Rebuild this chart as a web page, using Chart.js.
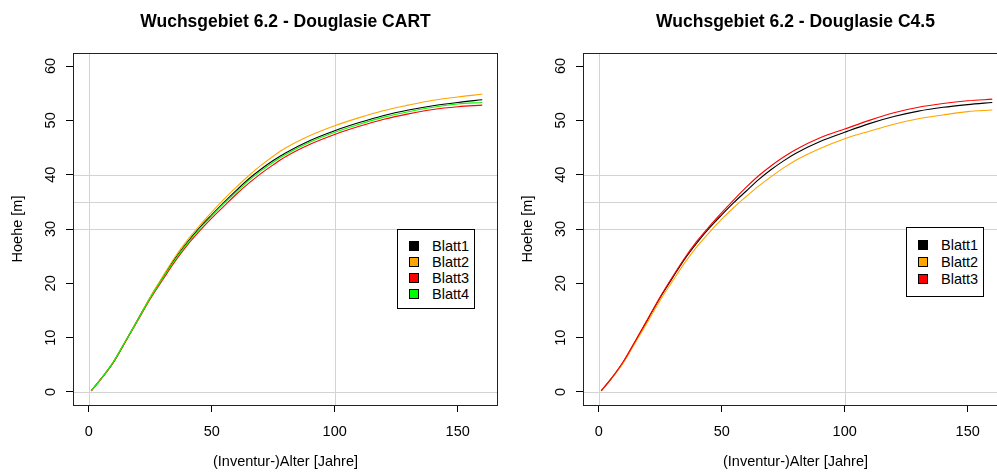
<!DOCTYPE html>
<html>
<head>
<meta charset="utf-8">
<script src="https://cdn.jsdelivr.net/npm/chart.js@4.4.1/dist/chart.umd.min.js"></script>
<style>
  body { margin: 0; width: 997px; height: 472px; overflow: hidden; background: #fff; position: relative; font-family: 'Liberation Sans', Arial, sans-serif; }
  canvas { position: absolute; top: 0; }
  .legend { position: absolute; border: 1px solid #000; background: #fff; box-sizing: border-box; }
  .legend div { position: relative; font-size: 14.5px; color: #000; padding-left: 34px; white-space: nowrap; }
  .legend span { position: absolute; left: 11px; width: 10px; height: 10px; border: 1px solid #000; box-sizing: border-box; }
</style>
</head>
<body>
<canvas id="cartChart" width="500" height="472" style="left:0px"></canvas>
<canvas id="c45Chart" width="500" height="472" style="left:510px"></canvas>
<div id="cartLegend" class="legend"></div>
<div id="c45Legend" class="legend"></div>
<script>
const ages = [1, 5, 10, 15, 20, 25, 30, 35, 40, 45, 50, 55, 60, 65, 70, 75, 80, 90, 100, 110, 120, 130, 140, 150, 160];

// Hoehe [m] - CART
const cartBlatt1 = [0.2, 2.4, 5.5, 9.4, 13.4, 17.4, 21.0, 24.5, 27.5, 30.2, 32.6, 34.9, 37.1, 39.2, 41.0, 42.6, 44.0, 46.3, 48.1, 49.6, 50.9, 51.9, 52.7, 53.3, 53.8];
const cartBlatt2 = [0.2, 2.4, 5.5, 9.4, 13.4, 17.5, 21.2, 24.8, 27.9, 30.6, 33.1, 35.5, 37.7, 39.8, 41.7, 43.4, 44.9, 47.2, 49.0, 50.5, 51.8, 52.8, 53.7, 54.3, 54.8];
const cartBlatt3 = [0.2, 2.4, 5.4, 9.3, 13.2, 17.1, 20.6, 24.0, 27.0, 29.6, 32.0, 34.2, 36.4, 38.4, 40.2, 41.8, 43.3, 45.6, 47.4, 48.9, 50.2, 51.2, 52.0, 52.5, 52.8];
const cartBlatt4 = [0.2, 2.4, 5.5, 9.4, 13.3, 17.3, 20.9, 24.3, 27.3, 30.0, 32.4, 34.7, 36.8, 38.9, 40.7, 42.3, 43.7, 46.0, 47.8, 49.3, 50.6, 51.6, 52.4, 53.0, 53.3];

// Hoehe [m] - C4.5
const c45Blatt1 = [0.2, 2.4, 5.5, 9.4, 13.4, 17.4, 21.0, 24.5, 27.5, 30.2, 32.6, 34.9, 37.0, 39.1, 40.9, 42.5, 43.9, 46.1, 47.8, 49.4, 50.7, 51.7, 52.4, 52.9, 53.3];
const c45Blatt2 = [0.2, 2.4, 5.4, 9.2, 13.0, 16.9, 20.4, 23.8, 26.8, 29.4, 31.8, 34.0, 36.0, 37.9, 39.6, 41.2, 42.6, 44.8, 46.6, 48.0, 49.3, 50.3, 51.0, 51.6, 51.9];
const c45Blatt3 = [0.2, 2.4, 5.6, 9.5, 13.5, 17.5, 21.2, 24.7, 27.8, 30.5, 33.0, 35.4, 37.7, 39.8, 41.6, 43.2, 44.6, 46.8, 48.4, 50.0, 51.4, 52.4, 53.1, 53.6, 53.9];

const cartLabels = ['Blatt1', 'Blatt2', 'Blatt3', 'Blatt4'];
const c45Labels = ['Blatt1', 'Blatt2', 'Blatt3'];
const lineColors = ['#000000', '#FFA500', '#FF0000', '#00FF00'];

const xTicks = [0, 50, 100, 150];
const yTicks = [0, 10, 20, 30, 40, 50, 60];
const hLines = [0, 30, 35, 40];
const vLines = [0, 100];

const FONT = "'Liberation Sans', Arial, sans-serif";

// graue Hilfslinien und Rahmen wie im R-Plot
const refLines = {
    id: 'refLines',
    beforeDatasetsDraw(chart) {
        const {ctx, chartArea: a, scales: {x, y}} = chart;
        ctx.save();
        ctx.strokeStyle = '#d3d3d3';
        ctx.lineWidth = 1;
        ctx.beginPath();
        hLines.forEach(v => {
            const py = Math.round(y.getPixelForValue(v)) + 0.5;
            ctx.moveTo(a.left, py); ctx.lineTo(a.right, py);
        });
        vLines.forEach(v => {
            const px = Math.round(x.getPixelForValue(v)) + 0.5;
            ctx.moveTo(px, a.top); ctx.lineTo(px, a.bottom);
        });
        ctx.stroke();
        ctx.restore();
    },
    afterDraw(chart) {
        const {ctx, chartArea: a} = chart;
        ctx.save();
        ctx.strokeStyle = '#222';
        ctx.lineWidth = 1;
        ctx.strokeRect(a.left + 0.5, a.top + 0.5, a.right - a.left - 1, a.bottom - a.top);
        ctx.restore();
    }
};

function makeChart(id, title, labels, series) {
    const n = series.length;
    return new Chart(document.getElementById(id), {
        type: 'line',
        data: {
            datasets: series.map((vals, i) => ({
                label: labels[i],
                data: ages.map((a, j) => ({x: a, y: vals[j]})),
                borderColor: lineColors[i],
                borderWidth: 1.1,
                pointRadius: 0,
                cubicInterpolationMode: 'monotone',
                order: n - i
            }))
        },
        options: {
            responsive: false,
            animation: false,
            layout: {padding: {left: 0, right: 2, top: 0, bottom: 0}},
            scales: {
                x: {
                    type: 'linear',
                    min: -6.4,
                    max: 166.4,
                    afterBuildTicks: s => { s.ticks = xTicks.map(v => ({value: v})); },
                    afterFit: s => { s.height = 67; },
                    grid: {drawOnChartArea: false, tickLength: 7, tickColor: '#000'},
                    border: {display: false},
                    ticks: {color: '#000', padding: 11, maxRotation: 0, font: {family: FONT, size: 14.5}},
                    title: {display: true, text: '(Inventur-)Alter [Jahre]', color: '#000',
                            padding: {top: 0, bottom: 1}, font: {family: FONT, size: 14.5}}
                },
                y: {
                    type: 'linear',
                    min: -2.4,
                    max: 62.4,
                    afterBuildTicks: s => { s.ticks = yTicks.map(v => ({value: v})); },
                    afterFit: s => { s.width = 73; },
                    grid: {drawOnChartArea: false, tickLength: 7, tickColor: '#000'},
                    border: {display: false},
                    ticks: {color: '#000', padding: 7, minRotation: 90, maxRotation: 90, crossAlign: 'center',
                            font: {family: FONT, size: 14.5}},
                    title: {display: true, text: 'Hoehe [m]', color: '#000',
                            padding: {top: 9, bottom: 0}, font: {family: FONT, size: 14.5}}
                }
            },
            plugins: {
                legend: {display: false},
                tooltip: {enabled: false},
                title: {
                    display: true,
                    text: title,
                    fullSize: false,
                    color: '#000',
                    font: {family: FONT, size: 17.5, weight: 'bold'},
                    padding: {top: 11.5, bottom: 20.5}
                }
            }
        },
        plugins: [refLines]
    });
}

function makeLegend(id, chart, box) {
    const el = document.getElementById(id);
    Object.assign(el.style, {left: box.left + 'px', top: box.top + 'px', width: box.width + 'px',
                             height: box.height + 'px', paddingTop: box.padTop + 'px'});
    chart.data.datasets.forEach(ds => {
        const row = document.createElement('div');
        row.style.height = box.row + 'px';
        row.style.lineHeight = box.row + 'px';
        const sw = document.createElement('span');
        sw.style.background = ds.borderColor;
        sw.style.top = ((box.row - 10) / 2) + 'px';
        row.appendChild(sw);
        row.appendChild(document.createTextNode(ds.label));
        el.appendChild(row);
    });
}

const cartChart = makeChart('cartChart', 'Wuchsgebiet 6.2 - Douglasie CART', cartLabels,
    [cartBlatt1, cartBlatt2, cartBlatt3, cartBlatt4]);
const c45Chart = makeChart('c45Chart', 'Wuchsgebiet 6.2 - Douglasie C4.5', c45Labels,
    [c45Blatt1, c45Blatt2, c45Blatt3]);

makeLegend('cartLegend', cartChart, {left: 397, top: 229, width: 78, height: 80, padTop: 8, row: 16});
makeLegend('c45Legend', c45Chart, {left: 906, top: 227, width: 78, height: 70, padTop: 8.5, row: 17});
</script>
</body>
</html>
